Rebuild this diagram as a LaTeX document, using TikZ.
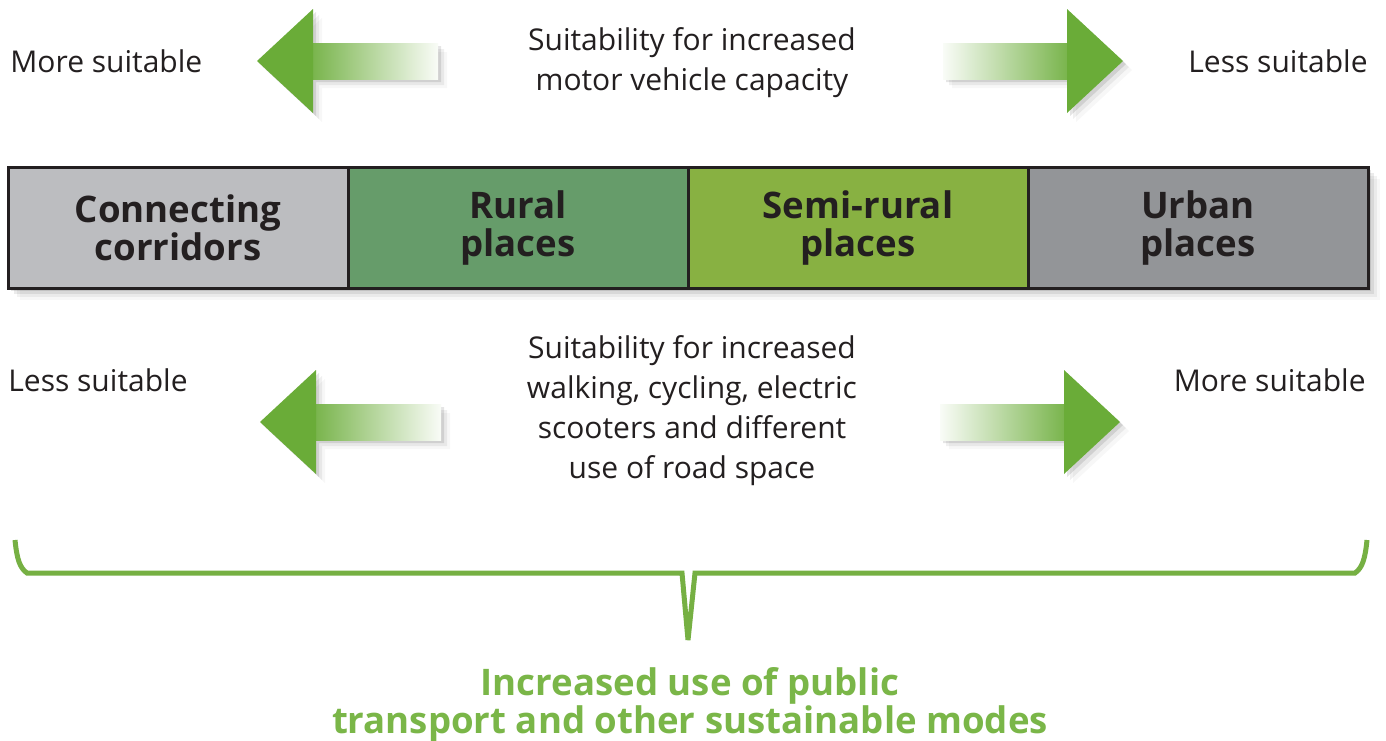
\documentclass[tikz,border=0pt]{standalone}
\usepackage{fontspec}
\setmainfont{Open Sans}
\usetikzlibrary{chains,positioning}

\definecolor{inkgrey}{HTML}{231F20}
\definecolor{corridorgrey}{HTML}{BCBDC0}
\definecolor{ruralgreen}{HTML}{669C6A}
\definecolor{semigreen}{HTML}{88B142}
\definecolor{urbangrey}{HTML}{939598}
\definecolor{arrowgreen}{HTML}{6AAC38}
\definecolor{bracegreen}{HTML}{76B043}
\definecolor{captiongreen}{HTML}{7AB648}

\begin{document}
\begin{tikzpicture}[x=0.5pt,y=-0.5pt]
        \fill[white] (0,0) rectangle (1386,740);
        \useasboundingbox (0,0) rectangle (1386,740);

        \edef\boxwidth{170pt}
        \tikzstyle{place}=[draw=inkgrey,line width=1.5pt,outer sep=0pt,minimum width=\boxwidth,minimum height=60.5pt,
            text=inkgrey,font=\bfseries\fontsize{18.3}{19}\selectfont,align=center]
        \tikzstyle{note}=[text=inkgrey,font=\fontsize{15}{20}\selectfont,align=center,inner sep=0pt]
        \tikzstyle{head}=[fill=arrowgreen]
        \tikzstyle{brace}=[draw=bracegreen,line width=2.5pt,line join=miter]

        % soft shadow under the bar
        \foreach \d/\o in {3/0.10,6/0.08,9/0.05,12/0.03} {
            \fill[black,opacity=\o] ({8+\d},{167+\d}) rectangle ({1368+\d},{288+\d});
        };

        \begin{scope}[start chain=1 going right,node distance=0pt]
        \node [on chain=1,place,fill=corridorgrey] at (178,227.5) (c0) {Connecting\\corridors};
        \node [on chain=1,place,fill=ruralgreen] (c1) {Rural\\places};
        \node [on chain=1,place,fill=semigreen] (c2) {Semi-rural\\places};
        \node [on chain=1,place,fill=urbangrey] (c3) {Urban\\places};
        \end{scope}

        %arrows: left one points to the left, right one to the right
        \foreach \yc/\xl/\xr in {61/257/1123,422/260/1120} {
            \foreach \d/\o in {3/0.10,6/0.06,9/0.03} {
                \fill[black,opacity=\o,shift={(\d,\d)}] (\xl,\yc) -- ({\xl+56},{\yc-52}) -- ({\xl+56},{\yc-18})
                    -- ({\xl+181},{\yc-18}) -- ({\xl+181},{\yc+18}) -- ({\xl+56},{\yc+18}) -- ({\xl+56},{\yc+52}) -- cycle;
                \fill[black,opacity=\o,shift={(\d,\d)}] (\xr,\yc) -- ({\xr-56},{\yc-52}) -- ({\xr-56},{\yc-18})
                    -- ({\xr-180},{\yc-18}) -- ({\xr-180},{\yc+18}) -- ({\xr-56},{\yc+18}) -- ({\xr-56},{\yc+52}) -- cycle;
            };
            \shade[left color=arrowgreen!90,right color=arrowgreen!4] ({\xl+55},{\yc-18}) rectangle ({\xl+181},{\yc+18});
            \fill[head] (\xl,\yc) -- ({\xl+56},{\yc-52}) -- ({\xl+56},{\yc+52}) -- cycle;
            \shade[left color=arrowgreen!4,right color=arrowgreen!90] ({\xr-180},{\yc-18}) rectangle ({\xr-55},{\yc+18});
            \fill[head] (\xr,\yc) -- ({\xr-56},{\yc-52}) -- ({\xr-56},{\yc+52}) -- cycle;
        };

        %texts round the arrows
        \node [note,anchor=west] (topleft) at (10,61) {More suitable};
        \node [note] (topmid) at (692,63) {Suitability for increased\\motor vehicle capacity};
        \node [note,anchor=east] (topright) at (1368,61) {Less suitable};
        \node [note,anchor=west] (lowleft) at (8,380) {Less suitable};
        \node [note] (lowmid) at (692,411) {Suitability for increased\\walking, cycling, electric\\scooters and different\\use of road space};
        \node [note,anchor=east] (lowright) at (1366,380) {More suitable};

        %brace and what it gathers
        \coordinate (braceL) at (15,540);
        \coordinate (braceR) at (1367,540);
        \coordinate (braceTip) at (688,640);
        \draw [brace] (braceL) .. controls (17,560) and (20,568) .. (27,573) -- (682,573) -- (braceTip)
            -- (695,573) -- (1355,573) .. controls (1362,568) and (1365,560) .. (braceR);
        \node [text=captiongreen,font=\bfseries\fontsize{18.3}{19}\selectfont,align=center,inner sep=0pt]
            (caption) at (690,705) {Increased use of public\\transport and other sustainable modes};
\end{tikzpicture}
\end{document}
